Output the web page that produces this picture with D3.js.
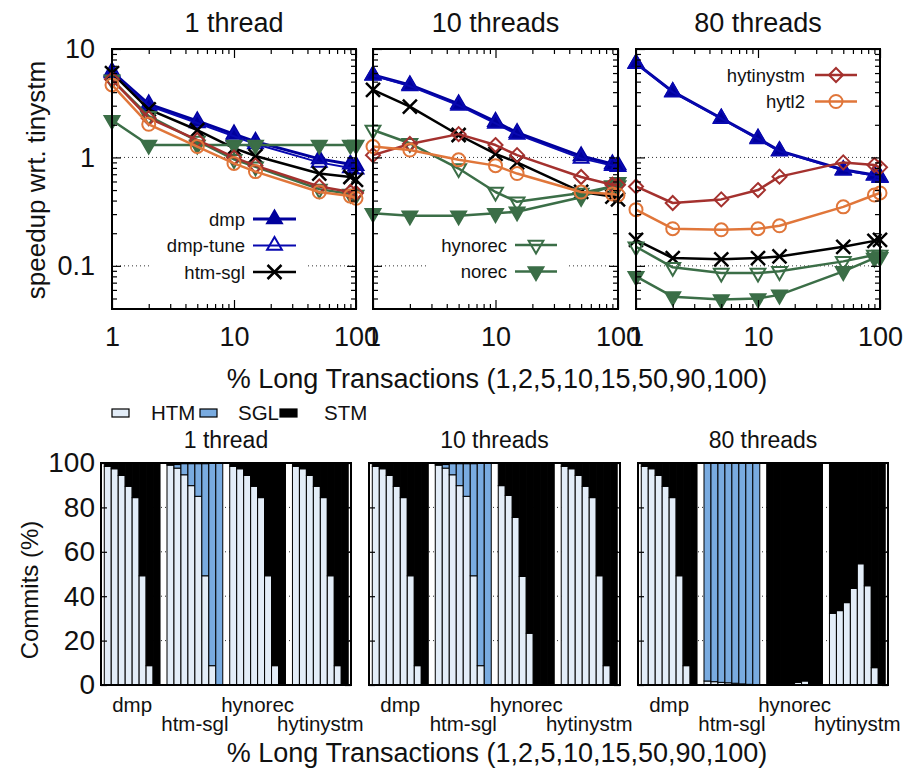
<!DOCTYPE html>
<html>
<head>
<meta charset="utf-8">
<script src="https://cdn.jsdelivr.net/npm/d3@7"></script>
<style>
  body { margin: 0; background: #fff; }
  text { font-family: "Liberation Sans", Arial, sans-serif; fill: #111; }
</style>
</head>
<body>
<svg width="911" height="769"></svg>
<script>
// percentage of long transactions (x values of the speedup plots)
const pct = [1, 2, 5, 10, 15, 50, 90, 100];
const threadLabels = ["1 thread", "10 threads", "80 threads"];

// speedup wrt. tinystm, one row per thread count (1, 10, 80)
const dmp = [
  [6.2, 3.1, 2.17, 1.64, 1.4, 0.97, 0.865, 0.84],
  [5.75, 4.66, 3.11, 2.14, 1.69, 1.03, 0.87, 0.85],
  [7.4, 4.04, 2.3, 1.5, 1.15, 0.77, 0.69, 0.66]
];
const dmpTune = [
  [6.0, 3.0, 2.08, 1.57, 1.33, 0.9, 0.8, 0.78],
  [5.7, 4.55, 3.02, 2.06, 1.63, 0.98, 0.84, 0.82],
  [7.3, 4.0, 2.28, 1.48, 1.14, 0.76, 0.68, 0.65]
];
const htmSgl = [
  [6.0, 2.78, 1.79, 1.22, 1.03, 0.71, 0.66, 0.62],
  [4.19, 2.94, 1.61, 1.08, 0.9, 0.48, 0.435, 0.41],
  [0.174, 0.118, 0.115, 0.118, 0.122, 0.15, 0.17, 0.174]
];
const hynorec = [
  [5.2, 2.4, 1.42, 0.96, 0.82, 0.51, 0.46, 0.45],
  [1.79, 1.35, 0.79, 0.48, 0.39, 0.47, 0.54, 0.55],
  [0.15, 0.097, 0.086, 0.086, 0.089, 0.11, 0.126, 0.126]
];
const norec = [
  [2.2, 1.3, 1.3, 1.3, 1.3, 1.3, 1.3, 1.3],
  [0.306, 0.29, 0.29, 0.305, 0.316, 0.43, 0.55, 0.59],
  [0.08, 0.052, 0.049, 0.05, 0.054, 0.089, 0.118, 0.12]
];
const hytinystm = [
  [5.25, 2.3, 1.45, 1.0, 0.84, 0.54, 0.48, 0.47],
  [1.05, 1.33, 1.64, 1.3, 1.05, 0.66, 0.56, 0.56],
  [0.54, 0.38, 0.41, 0.5, 0.665, 0.9, 0.85, 0.81]
];
const hytl2 = [
  [4.66, 2.02, 1.26, 0.88, 0.74, 0.48, 0.44, 0.42],
  [1.26, 1.17, 0.95, 0.84, 0.71, 0.48, 0.46, 0.45],
  [0.33, 0.22, 0.215, 0.22, 0.234, 0.35, 0.45, 0.47]
];

// commit breakdown (%), groups: dmp, htm-sgl, hynorec, hytinystm
const groupNames = ["dmp", "htm-sgl", "hynorec", "hytinystm"];
const htm1 = [
  [98.5, 97.4, 94.4, 89.5, 84.4, 49.2, 8.7, 0],
  [99, 97.7, 94.7, 89.8, 85, 49.2, 8.7, 0],
  [98.5, 97.4, 94.4, 89.5, 84.4, 49.2, 8.7, 0],
  [98.5, 97.4, 94.4, 89.5, 84.4, 49.2, 8.7, 0]
];
const sgl1 = [
  [0, 0, 0, 0, 0, 0, 0, 0],
  [0.4, 1.6, 5, 9.9, 14.7, 50.5, 91.1, 100],
  [0, 0, 0, 0, 0, 0, 0, 0],
  [0, 0, 0, 0, 0, 0, 0, 0]
];
const htm10 = [
  [98.5, 97.4, 94.4, 89.5, 84.4, 49.2, 8.7, 0],
  [99, 97.7, 94.7, 89.8, 85, 49.2, 8.7, 0],
  [89.8, 85.4, 75.5, 48.9, 23.3, 0, 0, 0],
  [98.5, 97.4, 94.4, 89.5, 84.4, 49.2, 8.7, 0]
];
const sgl10 = sgl1;
const htm80 = [
  [98.5, 97.4, 94.4, 89.5, 84.4, 49.2, 8.7, 0],
  [1.8, 1.5, 1.2, 1.0, 0.8, 0.5, 0.3, 0],
  [0, 0, 0.3, 0.7, 1.2, 1.8, 0, 0],
  [32.3, 33.5, 37.1, 43.5, 54.6, 44.7, 7.8, 0]
];
const sgl80 = [
  [0, 0, 0, 0, 0, 0, 0, 0],
  [98.2, 98.5, 98.8, 99, 99.2, 99.5, 99.7, 100],
  [0, 0, 0, 0, 0, 0, 0, 0],
  [0, 0, 0, 0, 0, 0, 0, 0]
];
const htmAll = [htm1, htm10, htm80];
const sglAll = [sgl1, sgl10, sgl80];

const navy = "#00009c", green = "#3b6e47", red = "#a4312e", orange = "#e0763a";
const series = [
  { name: "dmp", data: dmp, color: navy, width: 3, marker: "triUp", fill: true },
  { name: "dmp-tune", data: dmpTune, color: "#0808b0", width: 2, marker: "triUp", fill: false },
  { name: "htm-sgl", data: htmSgl, color: "#000", width: 2.5, marker: "times", fill: false },
  { name: "hynorec", data: hynorec, color: green, width: 2.5, marker: "triDown", fill: false },
  { name: "norec", data: norec, color: green, width: 2.5, marker: "triDown", fill: true },
  { name: "hytinystm", data: hytinystm, color: red, width: 2.5, marker: "diamond", fill: false },
  { name: "hytl2", data: hytl2, color: orange, width: 2.5, marker: "circle", fill: false }
];

const svg = d3.select("svg");
const font = '"Liberation Sans", Arial, sans-serif';

function marker(sel, s) {
  if (s.marker === "circle") {
    sel.append("circle").attr("r", 6.5);
  } else if (s.marker === "diamond") {
    sel.append("path").attr("d", "M0,-7L7,0L0,7L-7,0Z");
  } else if (s.marker === "times") {
    sel.append("path").attr("d", "M-7,-7L7,7M-7,7L7,-7");
  } else {
    sel.append("path")
      .attr("d", d3.symbol(d3.symbolTriangle, 95)())
      .attr("transform", s.marker === "triDown" ? "rotate(180)" : null);
  }
  sel.selectAll("*")
    .attr("fill", s.fill ? s.color : "none")
    .attr("stroke", s.color)
    .attr("stroke-width", s.marker === "times" ? 2.5 : 2);
}

// ---------- top: speedup ----------
const topPanels = [[112, 356], [373, 618], [636, 880]];
const yTop = d3.scaleLog().domain([0.04, 10]).range([309, 49]);
const legendBoxes = [[152, 205, 155, 82], [428, 232, 140, 54], [700, 60, 170, 56]];
const legendSpec = [
  { items: ["dmp", "dmp-tune", "htm-sgl"], tx: 245, ly: 219, lx: [253, 296] },
  { items: ["hynorec", "norec"], tx: 507, ly: 245, lx: [515, 557] },
  { items: ["hytinystm", "hytl2"], tx: 805, ly: 75, lx: [815, 857] }
];

topPanels.forEach((r, p) => {
  const x = d3.scaleLog().domain([1, 100]).range(r);
  const g = svg.append("g");

  [0.1, 1].forEach(v => {
    g.append("line").attr("x1", r[0]).attr("x2", r[1])
      .attr("y1", yTop(v)).attr("y2", yTop(v))
      .attr("stroke", "#333").attr("stroke-width", 1).attr("stroke-dasharray", "1,3");
  });
  const lb = legendBoxes[p];
  g.append("rect").attr("x", lb[0]).attr("y", lb[1]).attr("width", lb[2]).attr("height", lb[3]).attr("fill", "#fff");

  const line = d3.line().x((d, i) => x(pct[i])).y(d => yTop(d));
  series.forEach(s => {
    const vals = s.data[p];
    g.append("path").attr("d", line(vals)).attr("fill", "none")
      .attr("stroke", s.color).attr("stroke-width", s.width).attr("stroke-linejoin", "round");
    vals.forEach((v, i) => {
      const m = g.append("g").attr("transform", `translate(${x(pct[i])},${yTop(v)})`);
      marker(m, s);
    });
  });

  g.append("rect").attr("x", r[0]).attr("y", 49).attr("width", r[1] - r[0]).attr("height", 260)
    .attr("fill", "none").attr("stroke", "#000").attr("stroke-width", 2);

  const yMaj = [0.1, 1, 10];
  const yMin = [0.05, 0.06, 0.07, 0.08, 0.09, 0.2, 0.3, 0.4, 0.5, 0.6, 0.7, 0.8, 0.9, 2, 3, 4, 5, 6, 7, 8, 9];
  const xMaj = [1, 10, 100];
  const xMin = [2, 3, 4, 5, 6, 7, 8, 9, 20, 30, 40, 50, 60, 70, 80, 90];
  const fmt = d3.format("~g");
  const axes = [
    [d3.axisLeft(yTop).tickValues(yMaj).tickSize(-9).tickPadding(17).tickFormat(p === 0 ? fmt : ""), `translate(${r[0]},0)`],
    [d3.axisLeft(yTop).tickValues(yMin).tickSize(-5).tickFormat(""), `translate(${r[0]},0)`],
    [d3.axisRight(yTop).tickValues(yMaj).tickSize(-9).tickFormat(""), `translate(${r[1]},0)`],
    [d3.axisRight(yTop).tickValues(yMin).tickSize(-5).tickFormat(""), `translate(${r[1]},0)`],
    [d3.axisBottom(x).tickValues(xMaj).tickSize(-9).tickPadding(18).tickFormat(fmt), "translate(0,309)"],
    [d3.axisBottom(x).tickValues(xMin).tickSize(-5).tickFormat(""), "translate(0,309)"],
    [d3.axisTop(x).tickValues(xMaj).tickSize(-9).tickFormat(""), "translate(0,49)"],
    [d3.axisTop(x).tickValues(xMin).tickSize(-5).tickFormat(""), "translate(0,49)"]
  ];
  axes.forEach(([ax, tr]) => {
    const a = g.append("g").attr("transform", tr).call(ax);
    a.select(".domain").remove();
    a.selectAll("line").attr("stroke", "#000").attr("stroke-width", 1.2);
    a.attr("font-size", 27).attr("font-family", font);
    a.selectAll("text").attr("fill", "#111");
  });

  g.append("text").attr("x", (r[0] + r[1]) / 2).attr("y", 32).attr("text-anchor", "middle")
    .attr("font-size", 27).text(threadLabels[p]);

  const L = legendSpec[p];
  L.items.forEach((nm, j) => {
    const s = series.find(d => d.name === nm);
    const yy = L.ly + j * 26.5;
    g.append("text").attr("x", L.tx).attr("y", yy + 6.5).attr("text-anchor", "end")
      .attr("font-size", 18.5).text(nm);
    g.append("line").attr("x1", L.lx[0]).attr("x2", L.lx[1]).attr("y1", yy).attr("y2", yy)
      .attr("stroke", s.color).attr("stroke-width", s.width);
    marker(g.append("g").attr("transform", `translate(${(L.lx[0] + L.lx[1]) / 2},${yy})`), s);
  });
});

svg.append("text").attr("transform", "translate(45,180) rotate(-90)").attr("text-anchor", "middle")
  .attr("font-size", 26).text("speedup wrt. tinystm");
svg.append("text").attr("x", 497).attr("y", 388).attr("text-anchor", "middle")
  .attr("font-size", 27).text("% Long Transactions (1,2,5,10,15,50,90,100)");

// ---------- bottom: commits breakdown ----------
const botPanels = [[101, 351], [369, 620], [638, 888]];
const yBot = d3.scaleLinear().domain([0, 100]).range([685, 463]);
const htmColor = "#e3edf8", sglColor = "#79abe0";

botPanels.forEach((r, p) => {
  const xs = d3.scaleLinear().domain([0.53, 36.4]).range(r);
  const g = svg.append("g");
  const bw = xs(1) - xs(0);

  [20, 40, 60, 80].forEach(v => {
    g.append("line").attr("x1", r[0]).attr("x2", r[1]).attr("y1", yBot(v)).attr("y2", yBot(v))
      .attr("stroke", "#333").attr("stroke-dasharray", "1,3");
  });

  groupNames.forEach((gn, gi) => {
    pct.forEach((pc, i) => {
      const k = 9 * gi + 1 + i;
      const h = htmAll[p][gi][i], sg = sglAll[p][gi][i];
      const parts = [[0, h, htmColor], [h, h + sg, sglColor], [h + sg, 100, "#000"]];
      parts.forEach(([a, b, c]) => {
        if (b - a <= 0) return;
        g.append("rect").attr("x", xs(k)).attr("width", bw)
          .attr("y", yBot(b)).attr("height", yBot(a) - yBot(b))
          .attr("fill", c).attr("stroke", "#000").attr("stroke-width", 1);
      });
    });
    g.append("text").attr("x", xs(9 * gi + 5)).attr("y", gi % 2 === 0 ? 712 : 731)
      .attr("text-anchor", "middle").attr("font-size", 20.5).text(gn);
  });

  g.append("rect").attr("x", r[0]).attr("y", 463).attr("width", r[1] - r[0]).attr("height", 222)
    .attr("fill", "none").attr("stroke", "#000").attr("stroke-width", 2);

  const ticks = [0, 20, 40, 60, 80, 100];
  [[d3.axisLeft(yBot).tickValues(ticks).tickSize(-6).tickPadding(6).tickFormat(p === 0 ? d3.format("d") : ""), r[0]],
   [d3.axisRight(yBot).tickValues(ticks).tickSize(-6).tickFormat(""), r[1]]].forEach(([ax, tx]) => {
    const a = g.append("g").attr("transform", `translate(${tx},0)`).call(ax);
    a.select(".domain").remove();
    a.selectAll("line").attr("stroke", "#000").attr("stroke-width", 1.2);
    a.attr("font-size", 28).attr("font-family", font);
    a.selectAll("text").attr("fill", "#111");
  });

  g.append("text").attr("x", (r[0] + r[1]) / 2).attr("y", 448).attr("text-anchor", "middle")
    .attr("font-size", 23).text(threadLabels[p]);
});

// legend for the stacked bars
const stackKeys = ["HTM", "SGL", "STM"];
const stackColors = [htmColor, sglColor, "#000"];
const legX = [112, 200, 280], legTx = [151, 238, 324];
stackKeys.forEach((k, i) => {
  svg.append("rect").attr("x", legX[i]).attr("y", 409).attr("width", 17).attr("height", 8)
    .attr("fill", stackColors[i]).attr("stroke", "#000").attr("stroke-width", 1.2);
  svg.append("text").attr("x", legTx[i]).attr("y", 420).attr("font-size", 20.5).text(k);
});

svg.append("text").attr("transform", "translate(38,590) rotate(-90)").attr("text-anchor", "middle")
  .attr("font-size", 24).text("Commits (%)");
svg.append("text").attr("x", 497).attr("y", 762).attr("text-anchor", "middle")
  .attr("font-size", 27).text("% Long Transactions (1,2,5,10,15,50,90,100)");
</script>
</body>
</html>
